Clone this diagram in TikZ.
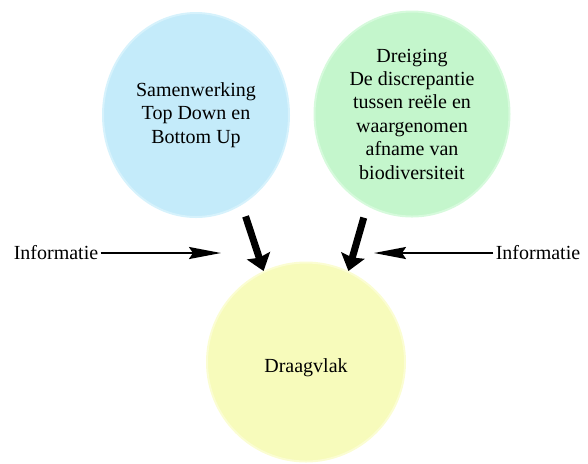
\documentclass[tikz,border=0pt]{standalone}
\usepackage{fontspec}
\setmainfont{Liberation Serif}
\usetikzlibrary{shapes.geometric,arrows.meta}
\definecolor{samenfill}{RGB}{196,235,250}
\definecolor{samenrim}{RGB}{214,242,252}
\definecolor{dreigfill}{RGB}{196,246,204}
\definecolor{dreigrim}{RGB}{214,250,220}
\definecolor{draagfill}{RGB}{247,251,187}
\definecolor{draagrim}{RGB}{251,253,210}
\tikzstyle{bubble} = [ellipse, inner sep=0pt, text centered, align=center, line width=1pt, font=\fontsize{10}{11.7}\selectfont]
\tikzstyle{samen} = [bubble, minimum width=93pt, minimum height=102pt, fill=samenfill, draw=samenrim]
\tikzstyle{dreig} = [bubble, minimum width=97.5pt, minimum height=102.5pt, fill=dreigfill, draw=dreigrim]
\tikzstyle{draag} = [bubble, minimum width=99pt, minimum height=99.5pt, fill=draagfill, draw=draagrim]
\tikzstyle{info} = [inner sep=1pt, font=\fontsize{10}{11.7}\selectfont]
\tikzstyle{bigarrow} = [line width=3.5pt, -{Stealth[length=8pt, width=12pt, inset=1pt]}]
\tikzstyle{infoarrow} = [line width=1pt, -{Stealth[length=16pt, width=6pt, inset=2pt]}]
\begin{document}
\begin{tikzpicture}[x=0.5pt, y=-0.5pt]
  \useasboundingbox (0,0) rectangle (588,463);
  \node (samenwerking) [samen] at (196,115) {Samenwerking\\Top Down en\\Bottom Up};
  \node (dreiging) [dreig] at (412,114) {Dreiging\\De discrepantie\\tussen reële en\\waargenomen\\afname van\\biodiversiteit};
  \node (draagvlak) [draag] at (306,362) {\raisebox{-3pt}[\height][\depth]{Draagvlak}};

  \node (infoleft) [info] at (56,253) {Informatie};
  \node (inforight) [info] at (538,253) {Informatie};
  \coordinate (tipleft) at (221,253);
  \coordinate (tipright) at (374,253);

  \draw [bigarrow, shorten <=6pt] (samenwerking.-63) -- (draagvlak.115);
  \draw [bigarrow, shorten <=6pt] (dreiging.-116) -- (draagvlak.65);
  \draw [infoarrow] (infoleft.east) -- (tipleft);
  \draw [infoarrow] (inforight.west) -- (tipright);
\end{tikzpicture}
\end{document}
